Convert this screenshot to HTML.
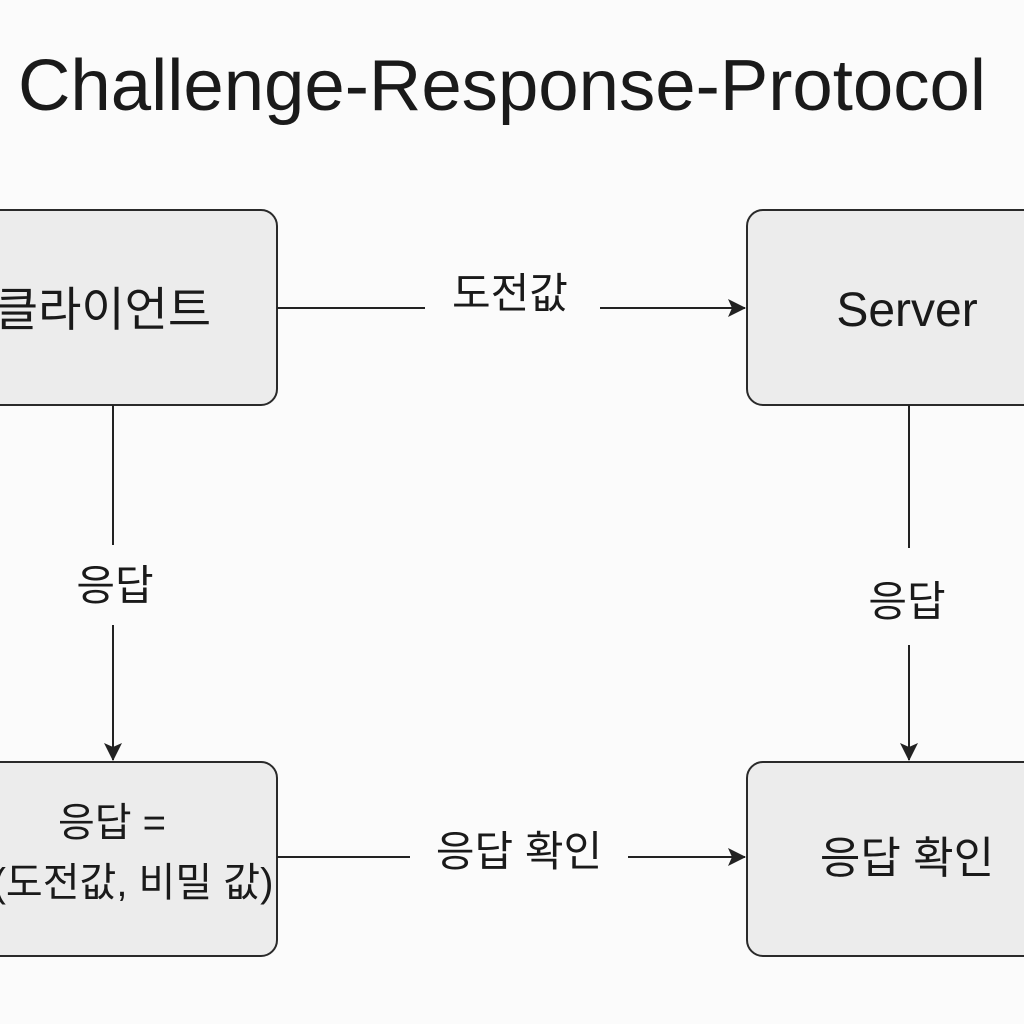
<!DOCTYPE html>
<html><head><meta charset="utf-8"><style>
html,body{margin:0;padding:0;background:#fbfbfb;}
svg{display:block}
text{font-family:"Liberation Sans","Noto Sans CJK KR","NanumGothic",sans-serif;fill:#1a1a1a}
</style></head><body>
<svg width="1024" height="1024" viewBox="0 0 1024 1024" xmlns="http://www.w3.org/2000/svg">
<defs>
<marker id="a" markerWidth="20" markerHeight="20" refX="17" refY="9" orient="auto" markerUnits="userSpaceOnUse">
<path d="M0,0 L18,9 L0,18 L4,9 Z" fill="#222"/>
</marker>
</defs>
<rect width="1024" height="1024" fill="#fbfbfb"/>
<text x="502" y="110" font-size="72" text-anchor="middle" textLength="968" lengthAdjust="spacingAndGlyphs">Challenge-Response-Protocol</text>

<g fill="#ececec" stroke="#2a2a2a" stroke-width="2">
<rect x="-20" y="210" width="297" height="195" rx="16"/>
<rect x="747" y="210" width="300" height="195" rx="16"/>
<rect x="-20" y="762" width="297" height="194" rx="16"/>
<rect x="747" y="762" width="300" height="194" rx="16"/>
</g>

<text x="103" y="326" font-size="47" text-anchor="middle">클라이언트</text>
<text x="907" y="326" font-size="48" text-anchor="middle">Server</text>
<text x="112" y="836" font-size="40" text-anchor="middle">응답 =</text>
<text x="133" y="896" font-size="40" text-anchor="middle">(도전값, 비밀 값)</text>
<text x="907" y="873" font-size="44" text-anchor="middle">응답 확인</text>

<g stroke="#222" stroke-width="2" fill="none">
<line x1="277" y1="308" x2="425" y2="308"/>
<line x1="600" y1="308" x2="745" y2="308" marker-end="url(#a)"/>
<line x1="113" y1="405" x2="113" y2="545"/>
<line x1="113" y1="625" x2="113" y2="760" marker-end="url(#a)"/>
<line x1="909" y1="405" x2="909" y2="548"/>
<line x1="909" y1="645" x2="909" y2="760" marker-end="url(#a)"/>
<line x1="277" y1="857" x2="410" y2="857"/>
<line x1="628" y1="857" x2="745" y2="857" marker-end="url(#a)"/>
</g>

<text x="510" y="308" font-size="42" text-anchor="middle">도전값</text>
<text x="115" y="600" font-size="42" text-anchor="middle">응답</text>
<text x="907" y="616" font-size="42" text-anchor="middle">응답</text>
<text x="519" y="866" font-size="42" text-anchor="middle">응답 확인</text>
</svg>
</body></html>
